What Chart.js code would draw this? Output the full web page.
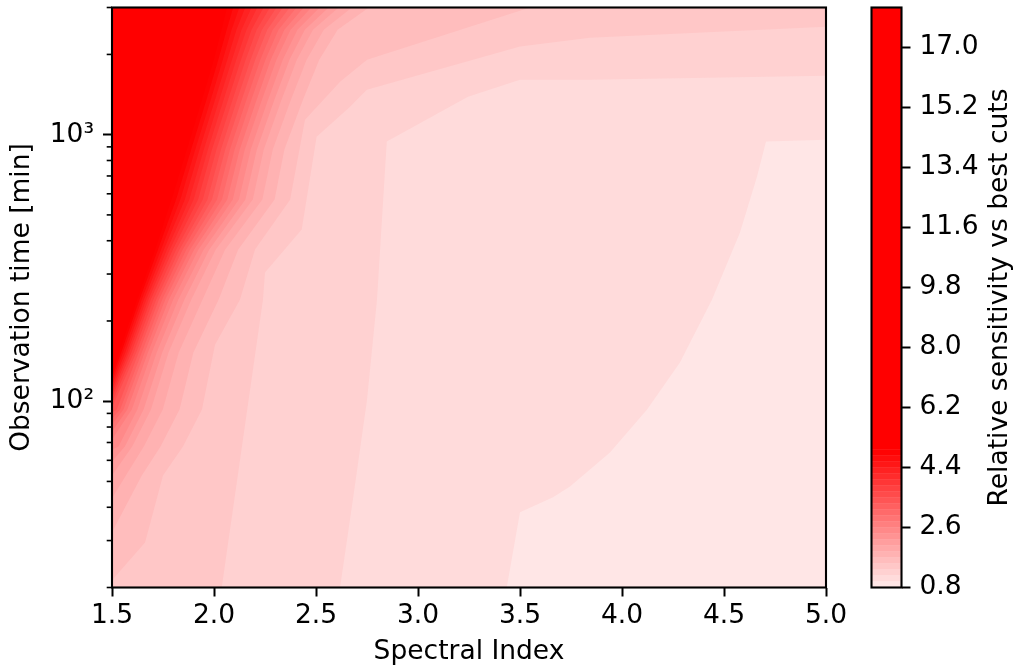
<!DOCTYPE html>
<html><head><meta charset="utf-8">
<script src="https://cdn.jsdelivr.net/npm/chart.js@4/dist/chart.umd.min.js"></script>
<style>
html,body{margin:0;padding:0;background:#fff;}
#wrap{position:relative;width:1017px;height:671px;overflow:hidden;background:#fff;}
canvas{position:absolute;top:0;}
#main{left:0;}
#cb{left:850px;}
</style></head><body>
<div id="wrap"><canvas id="main" width="860" height="671"></canvas><canvas id="cb" width="167" height="671"></canvas></div>
<script>
// ---- axes ----
const xRange = [1.5, 5.0];
const tRange = [20, 3000];
const xTicks = [1.5, 2.0, 2.5, 3.0, 3.5, 4.0, 4.5, 5.0];
const yMajorTicks = [100, 1000];
const yMinorTicks = [20, 30, 40, 50, 60, 70, 80, 90, 200, 300, 400, 500, 600, 700, 800, 900, 2000, 3000];
const cbTicks = [0.8, 2.6, 4.4, 6.2, 8.0, 9.8, 11.6, 13.4, 15.2, 17.0];
const cbRange = [0.8, 18.2];
// colour-bar bands (contour levels)
const levels = [0.8, 0.98, 1.16, 1.34, 1.52, 1.70, 1.88, 2.06, 2.24, 2.42, 2.60, 2.78, 2.96, 3.14, 3.32, 3.50, 3.68, 3.86, 4.04, 4.22, 4.40, 4.58, 4.76, 4.94];

// ---- contour boundaries: [spectral index, observation time (min)] ----
const c098 = [[3.435,20],[3.5,38.3],[3.662,43.6],[3.745,47.9],[3.941,64.2],[4.123,93.1],[4.284,139.7],[4.441,240],[4.578,429],[4.662,697],[4.706,942],[5.0,958]];
const c116 = [[2.618,20],[2.681,42.8],[2.75,101],[2.799,240],[2.847,942],[3.245,1388],[3.5,1607],[3.843,1607],[5.0,1665]];
const c134 = [[2.038,20],[2.240,240],[2.25,304],[2.43,441],[2.503,983],[2.667,1273],[2.749,1475],[3.5,2143],[3.843,2311],[5.0,2541]];
const c152 = [[1.5,21.3],[1.662,29.5],[1.75,52.6],[1.848,67.6],[1.941,93.1],[2.005,163],[2.127,240],[2.201,371],[2.373,570],[2.446,1138],[2.618,1580],[2.75,1910],[3.549,3000]];
const c170 = [[1.5,32.2],[1.646,52.6],[1.738,67.6],[1.831,93.1],[1.899,152.3],[2.023,241],[2.118,370],[2.297,571],[2.345,879],[2.436,1353],[2.516,1911],[2.606,2476],[2.759,3000]];
const c188 = [[1.5,43.2],[1.568,52.6],[1.656,67.6],[1.749,93.1],[1.827,152.3],[1.944,241],[2.054,370],[2.237,571],[2.288,879],[2.377,1353],[2.454,1911],[2.538,2476],[2.676,3000]];
const c206 = [[1.5,52.6],[1.599,67.6],[1.691,93.1],[1.777,152.3],[1.889,241],[2.008,370],[2.190,571],[2.244,879],[2.331,1353],[2.406,1911],[2.485,2476],[2.611,3000]];
const c224 = [[1.5,59.4],[1.563,67.6],[1.655,93.1],[1.746,152.3],[1.855,241],[1.976,370],[2.154,571],[2.210,879],[2.296,1353],[2.370,1911],[2.445,2476],[2.562,3000]];
const c242 = [[1.5,65.9],[1.532,67.6],[1.624,93.1],[1.719,152.3],[1.825,241],[1.949,370],[2.122,571],[2.180,879],[2.265,1353],[2.337,1911],[2.409,2476],[2.518,3000]];
const c260 = [[1.5,71.9],[1.597,93.1],[1.695,152.3],[1.800,241],[1.923,370],[2.092,571],[2.151,879],[2.235,1353],[2.306,1911],[2.375,2476],[2.477,3000]];
const c278 = [[1.5,77.0],[1.575,93.1],[1.676,152.3],[1.779,241],[1.902,370],[2.065,571],[2.126,879],[2.209,1353],[2.278,1911],[2.345,2476],[2.440,3000]];
const c296 = [[1.5,81.8],[1.556,93.1],[1.660,152.3],[1.761,241],[1.882,370],[2.039,571],[2.101,879],[2.183,1353],[2.252,1911],[2.316,2476],[2.404,3000]];
const c314 = [[1.5,86.1],[1.540,93.1],[1.646,152.3],[1.746,241],[1.864,370],[2.015,571],[2.078,879],[2.159,1353],[2.227,1911],[2.288,2476],[2.371,3000]];
const c332 = [[1.5,90.7],[1.523,93.1],[1.631,152.3],[1.730,241],[1.846,370],[1.990,571],[2.055,879],[2.136,1353],[2.202,1911],[2.261,2476],[2.337,3000]];
const c350 = [[1.5,94.7],[1.619,152.3],[1.717,241],[1.830,370],[1.968,571],[2.034,879],[2.113,1353],[2.179,1911],[2.235,2476],[2.306,3000]];
const c368 = [[1.5,98.9],[1.607,152.3],[1.703,241],[1.814,370],[1.945,571],[2.012,879],[2.091,1353],[2.155,1911],[2.209,2476],[2.274,3000]];
const c386 = [[1.5,103.2],[1.595,152.3],[1.690,241],[1.798,370],[1.922,571],[1.990,879],[2.069,1353],[2.132,1911],[2.184,2476],[2.243,3000]];
const c404 = [[1.5,106.9],[1.584,152.3],[1.679,241],[1.783,370],[1.900,571],[1.970,879],[2.047,1353],[2.109,1911],[2.159,2476],[2.212,3000]];
const c422 = [[1.5,110.6],[1.575,152.3],[1.668,241],[1.769,370],[1.879,571],[1.950,879],[2.026,1353],[2.088,1911],[2.135,2476],[2.184,3000]];
const c440 = [[1.5,114.5],[1.565,152.3],[1.657,241],[1.754,370],[1.857,571],[1.929,879],[2.005,1353],[2.065,1911],[2.110,2476],[2.153,3000]];
const c458 = [[1.5,118.6],[1.554,152.3],[1.646,241],[1.740,370],[1.835,571],[1.908,879],[1.984,1353],[2.043,1911],[2.086,2476],[2.124,3000]];
const c476 = [[1.5,122.7],[1.545,152.3],[1.635,241],[1.725,370],[1.814,571],[1.888,879],[1.963,1353],[2.021,1911],[2.062,2476],[2.094,3000]];
const c494 = [[1.5,127.0],[1.534,152.3],[1.624,241],[1.711,370],[1.792,571],[1.867,879],[1.941,1353],[1.999,1911],[2.037,2476],[2.064,3000]];

const contourLevels = [0.98, 1.16, 1.34, 1.52, 1.70, 1.88, 2.06, 2.24, 2.42, 2.60, 2.78, 2.96, 3.14, 3.32, 3.50, 3.68, 3.86, 4.04, 4.22, 4.40, 4.58, 4.76, 4.94];
const contourLines = [c098, c116, c134, c152, c170, c188, c206, c224, c242, c260, c278, c296, c314, c332, c350, c368, c386, c404, c422, c440, c458, c476, c494];

// ---- colour map (white -> red, saturating) ----
function cmap(v) {
  const f = Math.max(0, Math.min(1, (v - 0.45) / (4.9 - 0.45)));
  const g = Math.round(255 * (1 - f));
  return 'rgb(255,' + g + ',' + g + ')';
}
const STEP = 0.18;

function region(b) {
  const pts = b.map(p => ({x: p[0], y: p[1]}));
  const first = b[0], last = b[b.length - 1];
  if (last[0] >= xRange[1]) pts.push({x: xRange[1], y: tRange[1]});
  pts.push({x: xRange[0], y: tRange[1]});
  if (first[1] <= tRange[0]) pts.push({x: xRange[0], y: tRange[0]});
  return pts;
}

const FONT = 'DejaVu Sans';
const FS = 26.5;
Chart.defaults.font.family = FONT;
Chart.defaults.font.size = FS;
Chart.defaults.color = '#000';

const common = {fill: 'shape', pointRadius: 0, pointHoverRadius: 0, borderWidth: 0, borderColor: 'rgba(0,0,0,0)', tension: 0, showLine: true};
const datasets = [];
datasets.push(Object.assign({
  data: [{x: xRange[0], y: tRange[0]}, {x: xRange[1], y: tRange[0]}, {x: xRange[1], y: tRange[1]}, {x: xRange[0], y: tRange[1]}],
  backgroundColor: cmap(levels[0] + STEP / 2), order: 1000}, common));
contourLines.forEach((b, i) => {
  const lv = contourLevels[i];
  datasets.push(Object.assign({data: region(b), backgroundColor: cmap(lv + STEP / 2), order: 999 - i}, common));
});

const framePlugin = {
  id: 'frame',
  afterDraw(chart) {
    const {ctx, chartArea: a} = chart;
    ctx.save();
    ctx.strokeStyle = '#000';
    ctx.lineWidth = 2.1;
    ctx.strokeRect(a.left, a.top, a.right - a.left, a.bottom - a.top);
    ctx.restore();
  }
};
const minorPlugin = {
  id: 'minorTicks',
  afterDraw(chart) {
    const {ctx, chartArea: a} = chart;
    const ys = chart.scales.y;
    ctx.save();
    ctx.strokeStyle = '#000';
    ctx.lineWidth = 1.6;
    yMinorTicks.forEach(v => {
      const py = ys.getPixelForValue(v);
      ctx.beginPath();
      ctx.moveTo(a.left - 5.3, py);
      ctx.lineTo(a.left, py);
      ctx.stroke();
    });
    ctx.restore();
  }
};

new Chart(document.getElementById('main'), {
  type: 'line',
  data: {datasets},
  options: {
    responsive: false, animation: false, devicePixelRatio: 1,
    layout: {padding: {top: 7.5, right: 34, left: 0, bottom: 0}},
    plugins: {legend: {display: false}, tooltip: {enabled: false}},
    events: [],
    scales: {
      x: {
        type: 'linear', min: xRange[0], max: xRange[1],
        afterBuildTicks: s => { s.ticks = xTicks.map(v => ({value: v})); },
        afterFit: s => { s.height = 83.5; s.paddingLeft = 0; s.paddingRight = 0; },
        ticks: {callback: v => Number(v).toFixed(1), padding: 4, maxRotation: 0, autoSkip: false, color: '#000'},
        grid: {drawOnChartArea: false, drawTicks: true, tickLength: 9, tickWidth: 2, tickColor: '#000'},
        border: {display: false},
        title: {display: true, text: 'Spectral Index', color: '#000', padding: {top: 0, bottom: 3}}
      },
      y: {
        type: 'logarithmic', min: tRange[0], max: tRange[1],
        afterBuildTicks: s => { s.ticks = yMajorTicks.map(v => ({value: v})); },
        afterFit: s => { s.width = 112; s.paddingTop = 0; s.paddingBottom = 0; },
        ticks: {callback: v => (v === 100 ? '10²' : '10³'), padding: 9, autoSkip: false, color: '#000'},
        grid: {drawOnChartArea: false, drawTicks: true, tickLength: 9, tickWidth: 2, tickColor: '#000'},
        border: {display: false},
        title: {display: true, text: 'Observation time [min]', color: '#000', padding: {top: 6, bottom: 0}}
      }
    }
  },
  plugins: [framePlugin, minorPlugin]
});

// ---- colour bar ----
const cbDatasets = [];
for (let i = 0; i < levels.length; i++) {
  const lo = levels[i];
  const hi = (i + 1 < levels.length) ? levels[i + 1] : cbRange[1];
  cbDatasets.push({data: [[lo, hi]], backgroundColor: cmap((i + 1 < levels.length) ? (lo + hi) / 2 : 100), borderWidth: 0,
    barPercentage: 1, categoryPercentage: 1, grouped: false});
}
const cbLabelPlugin = {
  id: 'cbLabel',
  afterDraw(chart) {
    const {ctx, chartArea: a} = chart;
    ctx.save();
    ctx.translate(150, (a.top + a.bottom) / 2);
    ctx.rotate(-Math.PI / 2);
    ctx.font = FS + 'px "' + FONT + '"';
    ctx.fillStyle = '#000';
    ctx.textAlign = 'center';
    ctx.textBaseline = 'middle';
    ctx.fillText('Relative sensitivity vs best cuts', 0, 0);
    ctx.restore();
  }
};
new Chart(document.getElementById('cb'), {
  type: 'bar',
  data: {labels: ['cb'], datasets: cbDatasets},
  options: {
    responsive: false, animation: false, devicePixelRatio: 1,
    layout: {padding: {top: 7.5, left: 21.5, bottom: 83.5, right: 0}},
    plugins: {legend: {display: false}, tooltip: {enabled: false}},
    events: [],
    scales: {
      x: {display: false},
      y: {
        position: 'right', min: cbRange[0], max: cbRange[1],
        afterBuildTicks: s => { s.ticks = cbTicks.map(v => ({value: v})); },
        afterFit: s => { s.width = 115.5; s.paddingTop = 0; s.paddingBottom = 0; },
        ticks: {callback: v => Number(v).toFixed(1), padding: 9, autoSkip: false, color: '#000'},
        grid: {drawOnChartArea: false, drawTicks: true, tickLength: 9, tickWidth: 2, tickColor: '#000'},
        border: {display: false}
      }
    }
  },
  plugins: [framePlugin, cbLabelPlugin]
});
</script>
</body></html>
